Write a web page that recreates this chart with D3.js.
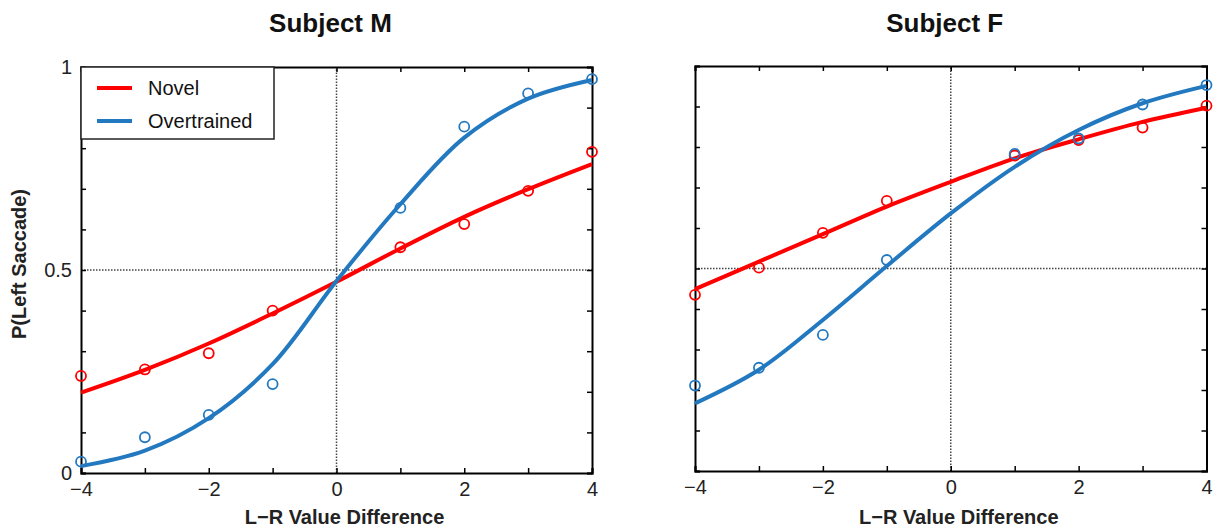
<!DOCTYPE html>
<html>
<head>
<meta charset="utf-8">
<script src="https://cdn.jsdelivr.net/npm/d3@7"></script>
<style>
  html, body { margin: 0; padding: 0; background: #fff; }
  svg { display: block; font-family: Arial, "Liberation Sans", Helvetica, sans-serif; }
</style>
</head>
<body>
<svg id="chart" width="1213" height="529"></svg>
<script>
// Observed choice proportions at each left-minus-right value difference
const pointX = [-4, -3, -2, -1, 1, 2, 3, 4];
const mNovelPts       = [0.239, 0.255, 0.295, 0.400, 0.556, 0.613, 0.695, 0.791];
const mOvertrainedPts = [0.028, 0.088, 0.143, 0.219, 0.653, 0.853, 0.935, 0.970];
const fNovelPts       = [0.435, 0.502, 0.588, 0.667, 0.779, 0.817, 0.848, 0.902];
const fOvertrainedPts = [0.211, 0.255, 0.336, 0.521, 0.783, 0.821, 0.905, 0.953];

// Fitted psychometric curves, sampled at integer value differences
const curveX = [-4, -3, -2, -1, 0, 1, 2, 3, 4];
const mNovelFit       = [0.198, 0.254, 0.319, 0.393, 0.471, 0.553, 0.631, 0.699, 0.761];
const mOvertrainedFit = [0.017, 0.055, 0.135, 0.268, 0.473, 0.662, 0.826, 0.922, 0.968];
const fNovelFit       = [0.449, 0.517, 0.585, 0.653, 0.714, 0.772, 0.819, 0.862, 0.897];
const fOvertrainedFit = [0.167, 0.250, 0.373, 0.506, 0.636, 0.751, 0.842, 0.908, 0.951];

// Axis ticks and labels
const xTicks = [-4, -3, -2, -1, 0, 1, 2, 3, 4];
const xTickLabels = [-4, -2, 0, 2, 4];
const yTicks = [0, 0.1, 0.2, 0.3, 0.4, 0.5, 0.6, 0.7, 0.8, 0.9, 1];
const yTickLabels = [0, 0.5, 1];
const seriesNames = ["Novel", "Overtrained"];
const seriesColors = ["#ff0000", "#2379c0"];

const panels = [
  { title: "Subject M", left: 81, right: 592, top: 67, bottom: 473, yLabels: true, legend: true,
    pts: [mNovelPts, mOvertrainedPts], fits: [mNovelFit, mOvertrainedFit] },
  { title: "Subject F", left: 695, right: 1206.5, top: 66, bottom: 471, yLabels: false, legend: false,
    pts: [fNovelPts, fOvertrainedPts], fits: [fNovelFit, fOvertrainedFit] }
];

const svg = d3.select("#chart");
const fmtX = d => d < 0 ? "\u2212" + Math.abs(d) : String(d);

panels.forEach(p => {
  const x = d3.scaleLinear().domain([-4, 4]).range([p.left, p.right]);
  const y = d3.scaleLinear().domain([0, 1]).range([p.bottom, p.top]);
  const g = svg.append("g");
  const tickLen = 5;

  // dotted reference lines
  g.append("line").attr("x1", x(0)).attr("x2", x(0)).attr("y1", y(0)).attr("y2", y(1))
    .attr("stroke", "#444").attr("stroke-width", 1.5).attr("stroke-dasharray", "1.5,1.5");
  g.append("line").attr("x1", x(-4)).attr("x2", x(4)).attr("y1", y(0.5)).attr("y2", y(0.5))
    .attr("stroke", "#444").attr("stroke-width", 1.5).attr("stroke-dasharray", "1.5,1.5");

  // inward ticks on all four sides
  const axisBottom = d3.axisBottom(x).tickValues(xTicks).tickSize(-tickLen).tickFormat(d => xTickLabels.includes(d) ? fmtX(d) : "").tickPadding(9);
  const axisTop = d3.axisTop(x).tickValues(xTicks).tickSize(-tickLen).tickFormat("");
  const axisLeft = d3.axisLeft(y).tickValues(yTicks).tickSize(-tickLen)
    .tickFormat(d => (p.yLabels && yTickLabels.some(v => Math.abs(v - d) < 1e-9)) ? d3.format("")(d) : "").tickPadding(9);
  const axisRight = d3.axisRight(y).tickValues(yTicks).tickSize(-tickLen).tickFormat("");

  const styleAxis = sel => {
    sel.select(".domain").attr("stroke", "#000").attr("stroke-width", 2);
    sel.selectAll(".tick line").attr("stroke", "#000").attr("stroke-width", 1.5);
    sel.selectAll(".tick text").attr("fill", "#222").style("font-size", "20px").style("font-family", "Arial, 'Liberation Sans', sans-serif");
  };
  g.append("g").attr("transform", `translate(0,${p.bottom})`).call(axisBottom).call(styleAxis);
  g.append("g").attr("transform", `translate(0,${p.top})`).call(axisTop).call(styleAxis);
  g.append("g").attr("transform", `translate(${p.left},0)`).call(axisLeft).call(styleAxis);
  g.append("g").attr("transform", `translate(${p.right},0)`).call(axisRight).call(styleAxis);

  // fitted curves
  const line = d3.line().x((d, i) => x(curveX[i])).y(d => y(d)).curve(d3.curveCatmullRom.alpha(0.5));
  p.fits.forEach((f, k) => {
    g.append("path").datum(f).attr("d", line).attr("fill", "none")
      .attr("stroke", seriesColors[k]).attr("stroke-width", 4).attr("stroke-linecap", "butt");
  });

  // observed points
  p.pts.forEach((s, k) => {
    g.selectAll(null).data(s).enter().append("circle")
      .attr("cx", (d, i) => x(pointX[i])).attr("cy", d => y(d)).attr("r", 5)
      .attr("fill", "none").attr("stroke", seriesColors[k]).attr("stroke-width", 1.8);
  });

  // title and axis label
  svg.append("text").attr("x", (p.left + p.right) / 2 - 6).attr("y", 32)
    .attr("text-anchor", "middle").style("font-size", "26px").style("font-weight", "bold").attr("fill", "#111")
    .text(p.title);
  svg.append("text").attr("x", (p.left + p.right) / 2 + 8).attr("y", 524)
    .attr("text-anchor", "middle").style("font-size", "20px").style("font-weight", "bold").attr("fill", "#222")
    .text("L\u2212R Value Difference");

  if (p.legend) {
    const lg = g.append("g");
    lg.append("rect").attr("x", p.left).attr("y", p.top).attr("width", 193).attr("height", 72)
      .attr("fill", "#fff").attr("stroke", "#222").attr("stroke-width", 1.5);
    seriesNames.forEach((name, k) => {
      const ly = p.top + 21 + k * 33;
      lg.append("line").attr("x1", p.left + 16).attr("x2", p.left + 51).attr("y1", ly).attr("y2", ly)
        .attr("stroke", seriesColors[k]).attr("stroke-width", 4);
      lg.append("text").attr("x", p.left + 67).attr("y", ly + 7).style("font-size", "20px").attr("fill", "#111").text(name);
    });
  }
});

// shared y-axis label
svg.append("text").attr("transform", "translate(26,264) rotate(-90)")
  .attr("text-anchor", "middle").style("font-size", "20px").style("font-weight", "bold").attr("fill", "#222")
  .text("P(Left Saccade)");
</script>
</body>
</html>
